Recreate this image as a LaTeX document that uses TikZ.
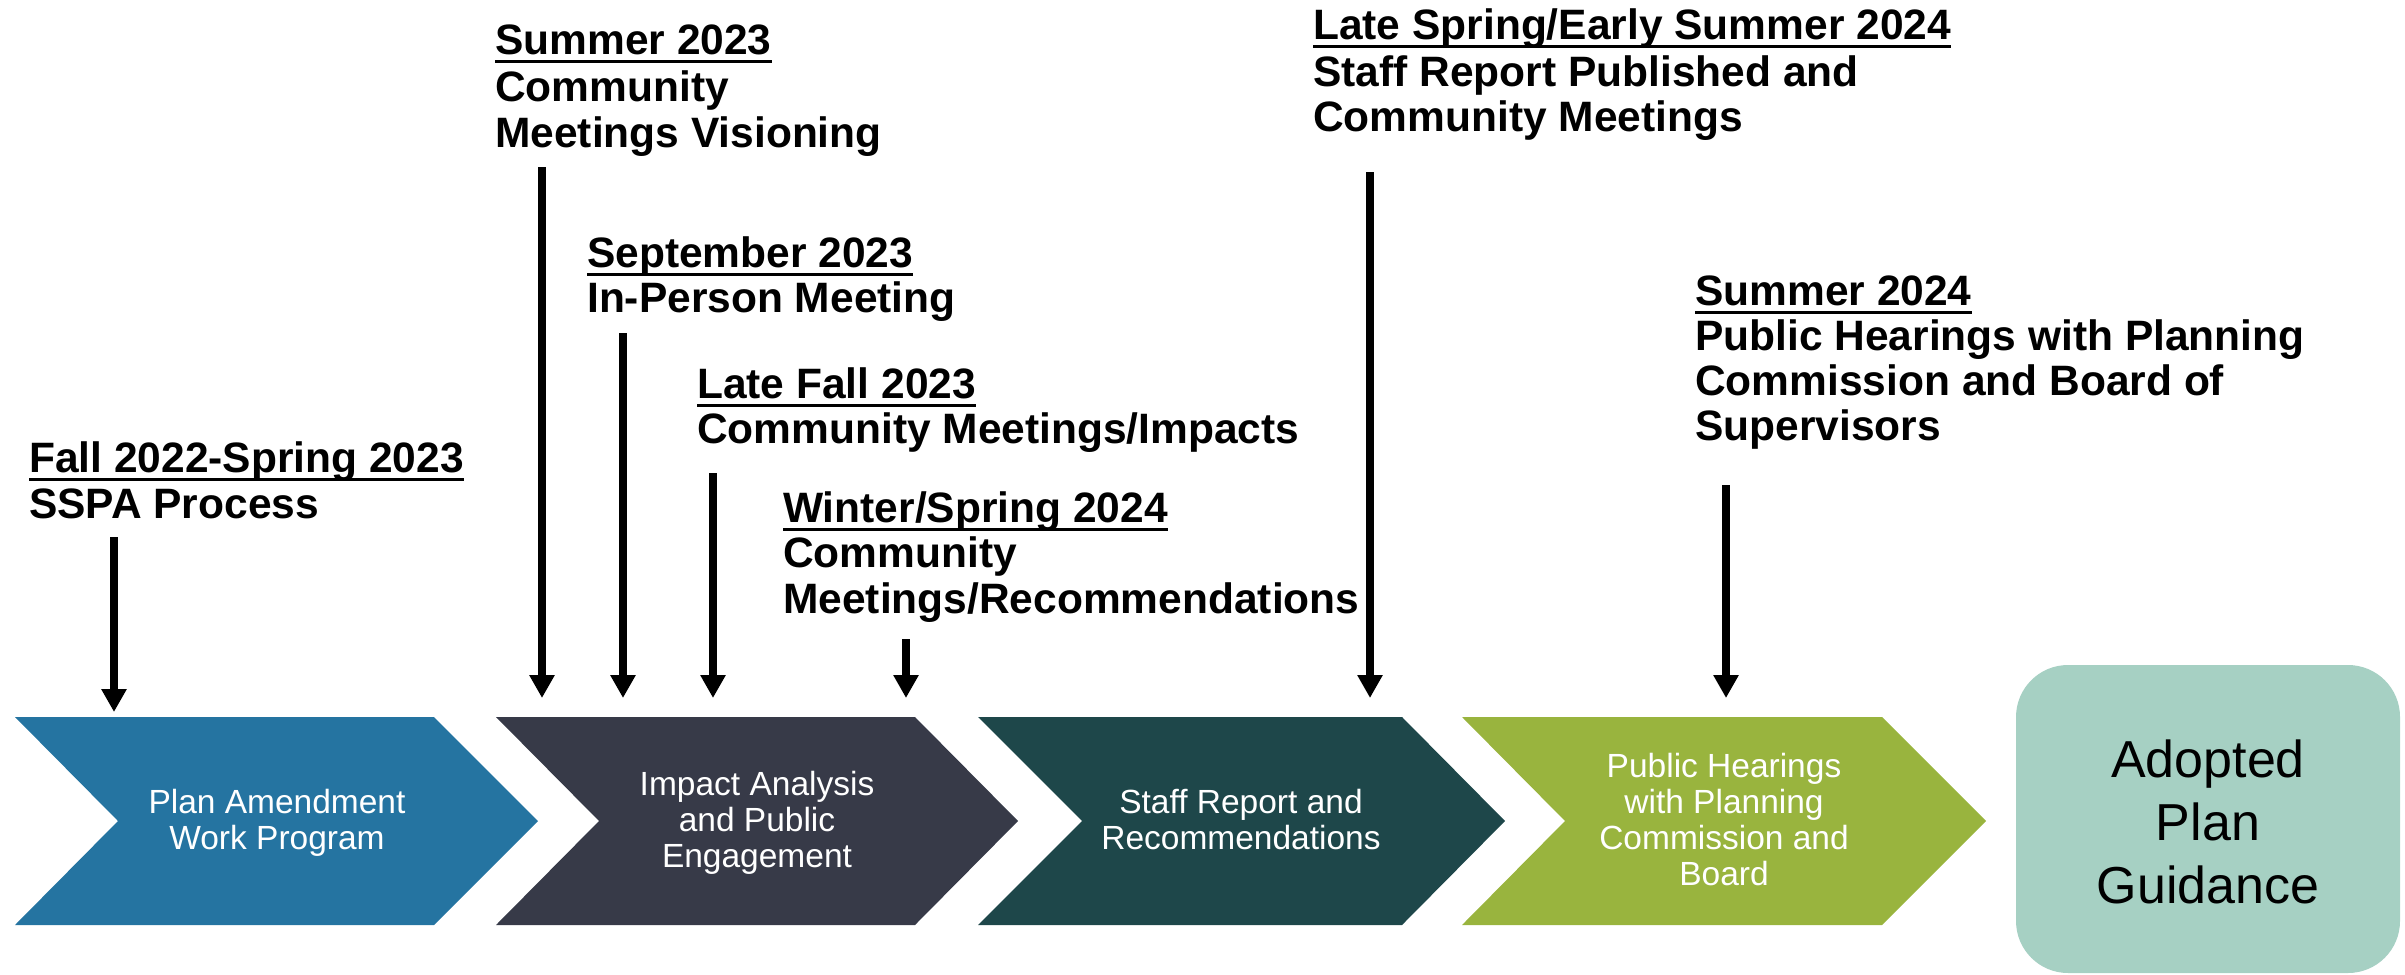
\documentclass[tikz,border=0pt]{standalone}
\usepackage{fontspec}
\setmainfont{Liberation Sans}
\usetikzlibrary{arrows.meta}
\definecolor{cone}{HTML}{2574A1}
\definecolor{ctwo}{HTML}{373A48}
\definecolor{cthree}{HTML}{1E474A}
\definecolor{cfour}{HTML}{99B43E}
\definecolor{cbox}{HTML}{A6D0C3}
\begin{document}
\begin{tikzpicture}[x=1pt,y=-1pt,
  lbl/.style={anchor=base west, inner sep=0pt, font=\fontsize{42.5}{46}\selectfont\bfseries},
  ctext/.style={anchor=base, inner sep=0pt, text=white, font=\fontsize{33.5}{36}\selectfont},
  btext/.style={anchor=base, inner sep=0pt, text=black, font=\fontsize{52}{60}\selectfont},
  uline/.style={line width=3pt},
  arr/.style={line width=8pt, -{Triangle[width=24pt,length=23pt]}},
]
\useasboundingbox (0,0) rectangle (2405,974);

% chevrons
\fill[cone]   (15,717) -- (434,717) -- (538,821) -- (434,925) -- (15,925) -- (118,821) -- cycle;
\fill[ctwo]   (496,717) -- (915,717) -- (1018,821) -- (915,925) -- (496,925) -- (599,821) -- cycle;
\fill[cthree] (978,717) -- (1402,717) -- (1505,821) -- (1402,925) -- (978,925) -- (1082,821) -- cycle;
\fill[cfour]  (1462,717) -- (1882,717) -- (1986,821) -- (1882,925) -- (1462,925) -- (1565,821) -- cycle;
\fill[cbox, rounded corners=52pt] (2016,665) rectangle (2400,973);

% chevron texts
\node[ctext] (t1a) at (277,813) {Plan Amendment};
\node[ctext] (t1b) at (277,849) {Work Program};
\node[ctext] (t2a) at (757,795) {Impact Analysis};
\node[ctext] (t2b) at (757,831) {and Public};
\node[ctext] (t2c) at (757,867) {Engagement};
\node[ctext] (t3a) at (1241,813) {Staff Report and};
\node[ctext] (t3b) at (1241,849) {Recommendations};
\node[ctext] (t4a) at (1724,777) {Public Hearings};
\node[ctext] (t4b) at (1724,813) {with Planning};
\node[ctext] (t4c) at (1724,849) {Commission and};
\node[ctext] (t4d) at (1724,885) {Board};
\node[btext] (t5a) at (2208,777) {Adopted};
\node[btext] (t5b) at (2208,840) {Plan};
\node[btext] (t5c) at (2208,903) {Guidance};

% labels
\node[lbl] (l1a) at (29,472) {Fall 2022-Spring 2023};
\node[lbl] (l1b) at (29,518) {SSPA Process};
\node[lbl] (l2a) at (495,55) {Summer 2023};
\node[lbl] (l2b) at (495,101) {Community};
\node[lbl] (l2c) at (495,147) {Meetings Visioning};
\node[lbl] (l3a) at (587,267) {September 2023};
\node[lbl] (l3b) at (587,312) {In-Person Meeting};
\node[lbl] (l4a) at (697,398) {Late Fall 2023};
\node[lbl] (l4b) at (697,443) {Community Meetings/Impacts};
\node[lbl] (l5a) at (783,522) {Winter/Spring 2024};
\node[lbl] (l5b) at (783,567) {Community};
\node[lbl] (l5c) at (783,613) {Meetings/Recommendations};
\node[lbl] (l6a) at (1313,40) {Late Spring/Early Summer 2024};
\node[lbl] (l6b) at (1313,86) {Staff Report Published and};
\node[lbl] (l6c) at (1313,131) {Community Meetings};
\node[lbl] (l7a) at (1695,305) {Summer 2024};
\node[lbl] (l7b) at (1695,350) {Public Hearings with Planning};
\node[lbl] (l7c) at (1695,395) {Commission and Board of};
\node[lbl] (l7d) at (1695,440) {Supervisors};

% underlines
\foreach \n in {l1a,l2a,l3a,l4a,l5a,l6a,l7a}
  \draw[uline] ([yshift=-7pt]\n.base west) -- ([yshift=-7pt]\n.base east);

% arrows
\coordinate (a1s) at (114,537);  \coordinate (a1e) at (114,712);
\coordinate (a2s) at (542,167);  \coordinate (a2e) at (542,698);
\coordinate (a3s) at (623,333);  \coordinate (a3e) at (623,698);
\coordinate (a4s) at (713,473);  \coordinate (a4e) at (713,698);
\coordinate (a5s) at (906,639);  \coordinate (a5e) at (906,698);
\coordinate (a6s) at (1370,172); \coordinate (a6e) at (1370,698);
\coordinate (a7s) at (1726,485); \coordinate (a7e) at (1726,698);
\foreach \i in {1,...,7}
  \draw[arr] (a\i s) -- (a\i e);
\end{tikzpicture}
\end{document}
